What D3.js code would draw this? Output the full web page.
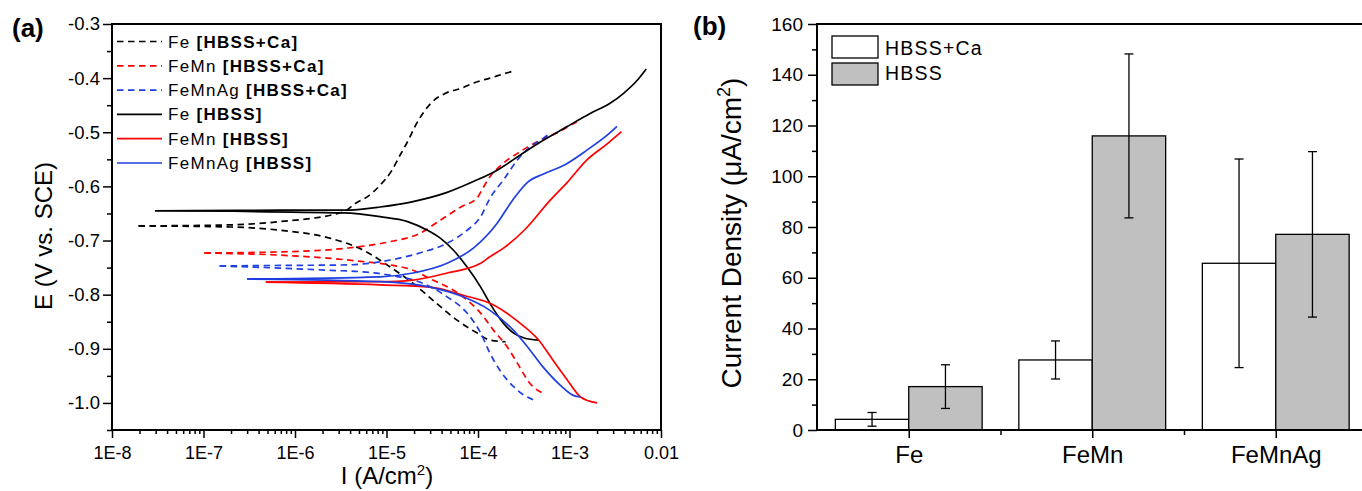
<!DOCTYPE html>
<html>
<head>
<meta charset="utf-8">
<script src="https://cdn.jsdelivr.net/npm/d3@7"></script>
<style>
body { margin: 0; background: #fff; }
svg { display: block; font-family: "Liberation Sans", Arial, sans-serif; }
.axis path { display: none; }
.axis line { stroke: #000; stroke-width: 1.5; }
.axis text { fill: #000; }
</style>
</head>
<body>
<div id="svg-container"></div>
<script>
// ---- panel (a): polarization curves, [I (A/cm2), E (V vs. SCE)] ----
// each curve starts at its corrosion point, one branch up (anodic), one down (cathodic)
let feCaAnodic = [[1.95e-8,-0.673],[2.0e-7,-0.671],[6.9e-7,-0.665],[3.4e-6,-0.647],[4.6e-6,-0.631],[6.2e-6,-0.619],
	[8.5e-6,-0.598],[1.15e-5,-0.570],[1.41e-5,-0.542],[1.74e-5,-0.514],[2.04e-5,-0.490],[2.57e-5,-0.462],
	[3.16e-5,-0.444],[4.4e-5,-0.428],[6.5e-5,-0.419],[9.3e-5,-0.408],[1.35e-4,-0.400],[2.1e-4,-0.390],[2.45e-4,-0.387]];
let feCaCathodic = [[1.95e-8,-0.673],[2.0e-7,-0.675],[6.9e-7,-0.681],[2.45e-6,-0.696],[5.6e-6,-0.718],[1.1e-5,-0.749],
	[1.95e-5,-0.779],[3.2e-5,-0.810],[5.9e-5,-0.847],[9.8e-5,-0.871],[1.35e-4,-0.884],[2.0e-4,-0.887]];

let feMnCaAnodic = [[1.02e-7,-0.723],[6.9e-7,-0.721],[3.7e-6,-0.714],[1.1e-5,-0.702],[2.3e-5,-0.687],[3.9e-5,-0.662],
	[6.5e-5,-0.638],[9.8e-5,-0.621],[1.15e-4,-0.601],[1.35e-4,-0.582],[1.7e-4,-0.564],[2.1e-4,-0.551],[2.7e-4,-0.539],
	[3.5e-4,-0.527],[4.4e-4,-0.518],[5.6e-4,-0.509],[7.2e-4,-0.502],[9.3e-4,-0.491],[1.2e-3,-0.481]];
let feMnCaCathodic = [[1.02e-7,-0.723],[6.9e-7,-0.727],[2.45e-6,-0.733],[5.6e-6,-0.739],[1.1e-5,-0.745],[1.95e-5,-0.755],
	[3.2e-5,-0.773],[5.2e-5,-0.790],[7.6e-5,-0.810],[1.07e-4,-0.834],[1.48e-4,-0.866],[2.1e-4,-0.897],[2.7e-4,-0.927],
	[3.7e-4,-0.964],[5.1e-4,-0.982]];

let feMnAgCaAnodic = [[1.5e-7,-0.747],[6.9e-7,-0.746],[3.7e-6,-0.745],[1.1e-5,-0.736],[2.3e-5,-0.723],[4.6e-5,-0.705],
	[7.6e-5,-0.681],[1.07e-4,-0.656],[1.35e-4,-0.622],[1.9e-4,-0.588],[2.7e-4,-0.551],[3.7e-4,-0.527],[5.2e-4,-0.511],[6.2e-4,-0.501]];
let feMnAgCaCathodic = [[1.5e-7,-0.747],[6.9e-7,-0.751],[2.45e-6,-0.755],[5.6e-6,-0.758],[1.1e-5,-0.764],[2.5e-5,-0.779],
	[4.6e-5,-0.804],[7.6e-5,-0.834],[1.07e-4,-0.871],[1.35e-4,-0.908],[1.74e-4,-0.940],[2.45e-4,-0.970],[3.2e-4,-0.986],[4.0e-4,-0.994]];

let feAnodic = [[2.95e-8,-0.645],[6.9e-7,-0.644],[3.4e-6,-0.644],[8.5e-6,-0.638],[1.95e-5,-0.628],[4.6e-5,-0.611],
	[8.9e-5,-0.591],[1.62e-4,-0.570],[2.9e-4,-0.542],[4.8e-4,-0.518],[9.3e-4,-0.490],[1.7e-3,-0.465],[2.8e-3,-0.446],
	[3.9e-3,-0.428],[5.5e-3,-0.404],[6.9e-3,-0.383]];
let feCathodic = [[2.95e-8,-0.645],[3.4e-6,-0.649],[8.5e-6,-0.656],[1.7e-5,-0.665],[2.8e-5,-0.681],[3.9e-5,-0.696],
	[5.4e-5,-0.718],[7.6e-5,-0.749],[1.07e-4,-0.786],[1.35e-4,-0.816],[1.9e-4,-0.853],[2.45e-4,-0.871],[3.2e-4,-0.880],[4.6e-4,-0.884]];

let feMnAnodic = [[4.8e-7,-0.777],[8.5e-6,-0.776],[1.95e-5,-0.773],[4.6e-5,-0.760],[1.07e-4,-0.742],[1.35e-4,-0.730],
	[1.9e-4,-0.714],[3.2e-4,-0.681],[6.2e-4,-0.625],[9.3e-4,-0.594],[1.55e-3,-0.551],[2.6e-3,-0.521],[3.7e-3,-0.499]];
let feMnCathodic = [[4.8e-7,-0.777],[8.5e-6,-0.782],[3.0e-5,-0.786],[6.9e-5,-0.801],[1.48e-4,-0.819],[2.9e-4,-0.853],
	[4.5e-4,-0.882],[6.6e-4,-0.921],[9.5e-4,-0.958],[1.32e-3,-0.989],[2.0e-3,-1.000]];

let feMnAgAnodic = [[3.0e-7,-0.771],[8.5e-6,-0.767],[1.95e-5,-0.760],[4.6e-5,-0.742],[8.9e-5,-0.714],[1.62e-4,-0.668],
	[2.4e-4,-0.625],[3.5e-4,-0.592],[5.2e-4,-0.577],[8.7e-4,-0.561],[1.55e-3,-0.533],[2.6e-3,-0.505],[3.3e-3,-0.489]];
let feMnAgCathodic = [[3.0e-7,-0.771],[8.5e-6,-0.776],[3.0e-5,-0.786],[6.9e-5,-0.804],[1.35e-4,-0.829],[2.45e-4,-0.866],
	[3.5e-4,-0.897],[5.1e-4,-0.933],[7.9e-4,-0.967],[1.1e-3,-0.986],[1.32e-3,-0.989]];

let xTicksA = [1e-8, 1e-7, 1e-6, 1e-5, 1e-4, 1e-3, 1e-2];
let xTickLabelsA = ['1E-8', '1E-7', '1E-6', '1E-5', '1E-4', '1E-3', '0.01'];
let yTicksA = [-1.0, -0.9, -0.8, -0.7, -0.6, -0.5, -0.4, -0.3];

// ---- panel (b): current density (uA/cm2) ----
let categories = ['Fe', 'FeMn', 'FeMnAg'];
let hbssCaMean = [4.2, 27.6, 65.7];
let hbssCaErr = [2.7, 7.5, 41.1];
let hbssMean = [17.1, 115.9, 77.1];
let hbssErr = [8.6, 32.3, 32.6];
let yTicksB = [0, 20, 40, 60, 80, 100, 120, 140, 160];

window.onload = function(){

let svg = d3.select('#svg-container').append('svg')
	.attr('width', 1362)
	.attr('height', 491);

// ================= panel (a) =================
let xA = d3.scaleLog().domain([1e-8, 1e-2]).range([112, 661]);
let yA = d3.scaleLinear().domain([-1.05, -0.3]).range([430, 24]);

// minor ticks 2..9 of every decade
let minorX = [];
for (let e = -8; e < -2; e++) for (let m = 2; m <= 9; m++) minorX.push(m * Math.pow(10, e));
let minorY = d3.range(-1.05, -0.3, 0.1);

svg.append('g').attr('class', 'axis')
	.attr('transform', 'translate(0,430)')
	.style('font-size', '18px')
	.call(d3.axisBottom(xA).tickValues(xTicksA).tickSize(8).tickPadding(8).tickSizeOuter(0)
		.tickFormat((d, i) => xTickLabelsA[i]));
svg.append('g').attr('class', 'axis')
	.attr('transform', 'translate(0,430)')
	.call(d3.axisBottom(xA).tickValues(minorX).tickSize(4).tickFormat(''));
svg.append('g').attr('class', 'axis')
	.attr('transform', 'translate(112,0)')
	.style('font-size', '18.5px')
	.call(d3.axisLeft(yA).tickValues(yTicksA).tickSize(9).tickPadding(3).tickSizeOuter(0)
		.tickFormat(d => d.toFixed(1)));
svg.append('g').attr('class', 'axis')
	.attr('transform', 'translate(112,0)')
	.call(d3.axisLeft(yA).tickValues(minorY).tickSize(5).tickFormat(''));

// frame
svg.append('rect')
	.attr('x', 112).attr('y', 24)
	.attr('width', 661 - 112).attr('height', 430 - 24)
	.attr('fill', 'none').attr('stroke', '#000').attr('stroke-width', 2);

let curves = [
	{ name: 'Fe',     sol: '[HBSS+Ca]', color: '#000',    dash: true,  up: feCaAnodic,     down: feCaCathodic },
	{ name: 'FeMn',   sol: '[HBSS+Ca]', color: '#ff0000', dash: true,  up: feMnCaAnodic,   down: feMnCaCathodic },
	{ name: 'FeMnAg', sol: '[HBSS+Ca]', color: '#1f3fe0', dash: true,  up: feMnAgCaAnodic, down: feMnAgCaCathodic },
	{ name: 'Fe',     sol: '[HBSS]',    color: '#000',    dash: false, up: feAnodic,       down: feCathodic },
	{ name: 'FeMn',   sol: '[HBSS]',    color: '#ff0000', dash: false, up: feMnAnodic,     down: feMnCathodic },
	{ name: 'FeMnAg', sol: '[HBSS]',    color: '#1f3fe0', dash: false, up: feMnAgAnodic,   down: feMnAgCathodic }
];

let line = d3.line()
	.x(d => xA(d[0]))
	.y(d => yA(d[1]))
	.curve(d3.curveMonotoneX);

let curveGroup = svg.append('g').attr('id', 'curves');
curves.forEach(function(c) {
	[c.down, c.up].forEach(function(branch) {
		curveGroup.append('path')
			.datum(branch)
			.attr('d', line)
			.attr('fill', 'none')
			.attr('stroke', c.color)
			.attr('stroke-width', 1.7)
			.attr('stroke-dasharray', c.dash ? '6.5,4.5' : null);
	});
});

// legend (a)
let legendA = svg.append('g').attr('id', 'legend-a');
curves.forEach(function(c, i) {
	let cy = 41.5 + i * 24.3;
	legendA.append('line')
		.attr('x1', 117).attr('x2', 162)
		.attr('y1', cy).attr('y2', cy)
		.attr('stroke', c.color).attr('stroke-width', 1.7)
		.attr('stroke-dasharray', c.dash ? '6.5,4.5' : null);
	let t = legendA.append('text')
		.attr('x', 168).attr('y', cy + 6)
		.style('font-size', '17px')
		.style('letter-spacing', '1.3px');
	t.append('tspan').text(c.name + ' ');
	t.append('tspan').attr('font-weight', 'bold').text(c.sol);
});

// titles (a)
svg.append('text')
	.attr('x', 12).attr('y', 37)
	.attr('font-weight', 'bold').style('font-size', '26px')
	.text('(a)');
svg.append('text')
	.attr('transform', 'translate(52,236) rotate(-90)')
	.attr('text-anchor', 'middle')
	.style('font-size', '24px')
	.text('E (V vs. SCE)');
let xTitle = svg.append('text')
	.attr('x', 387).attr('y', 484)
	.attr('text-anchor', 'middle')
	.style('font-size', '24px');
xTitle.append('tspan').text('I (A/cm');
xTitle.append('tspan').attr('dy', -9).style('font-size', '15px').text('2');
xTitle.append('tspan').attr('dy', 9).text(')');

// ================= panel (b) =================
let xB = d3.scaleLinear().domain([0.5, 3.5]).range([817, 1367.5]);
let yB = d3.scaleLinear().domain([0, 160]).range([430, 24]);
let bw = xB(1.4) - xB(1);

let barGroup = svg.append('g').attr('id', 'bars');
categories.forEach(function(cat, i) {
	let cx = xB(i + 1);
	// HBSS+Ca (white) on the left, HBSS (grey) on the right
	barGroup.append('rect')
		.attr('x', cx - bw).attr('y', yB(hbssCaMean[i]))
		.attr('width', bw).attr('height', yB(0) - yB(hbssCaMean[i]))
		.attr('fill', '#fff').attr('stroke', '#000').attr('stroke-width', 1.3);
	barGroup.append('rect')
		.attr('x', cx).attr('y', yB(hbssMean[i]))
		.attr('width', bw).attr('height', yB(0) - yB(hbssMean[i]))
		.attr('fill', '#c0c0c0').attr('stroke', '#000').attr('stroke-width', 1.3);
	// error bars
	[[cx - bw / 2, hbssCaMean[i], hbssCaErr[i]], [cx + bw / 2, hbssMean[i], hbssErr[i]]].forEach(function(e) {
		let top = yB(e[1] + e[2]);
		let bot = yB(e[1] - e[2]);
		barGroup.append('line')
			.attr('x1', e[0]).attr('x2', e[0]).attr('y1', top).attr('y2', bot)
			.attr('stroke', '#000').attr('stroke-width', 1.3);
		[top, bot].forEach(function(y) {
			barGroup.append('line')
				.attr('x1', e[0] - 4.5).attr('x2', e[0] + 4.5).attr('y1', y).attr('y2', y)
				.attr('stroke', '#000').attr('stroke-width', 1.3);
		});
	});
});

svg.append('g').attr('class', 'axis')
	.attr('transform', 'translate(0,430)')
	.style('font-size', '24px')
	.call(d3.axisBottom(xB).tickValues([1, 2, 3]).tickSize(8).tickPadding(8).tickSizeOuter(0)
		.tickFormat(d => categories[d - 1]));
svg.append('g').attr('class', 'axis')
	.attr('transform', 'translate(0,430)')
	.call(d3.axisBottom(xB).tickValues([1.5, 2.5]).tickSize(5).tickFormat(''));
svg.append('g').attr('class', 'axis')
	.attr('transform', 'translate(817,0)')
	.style('font-size', '19px')
	.call(d3.axisLeft(yB).tickValues(yTicksB).tickSize(9).tickPadding(5).tickSizeOuter(0));
svg.append('g').attr('class', 'axis')
	.attr('transform', 'translate(817,0)')
	.call(d3.axisLeft(yB).tickValues(d3.range(10, 160, 20)).tickSize(5).tickFormat(''));

// frame lines (right edge falls outside the picture)
svg.append('path')
	.attr('d', 'M1362,24H817V430H1362')
	.attr('fill', 'none').attr('stroke', '#000').attr('stroke-width', 2);

// legend (b)
let legendB = svg.append('g').attr('id', 'legend-b');
[['HBSS+Ca', '#fff', 36, 55], ['HBSS', '#c0c0c0', 63, 80]].forEach(function(l) {
	legendB.append('rect')
		.attr('x', 832).attr('y', l[2]).attr('width', 46).attr('height', 22)
		.attr('fill', l[1]).attr('stroke', '#000').attr('stroke-width', 1.3);
	legendB.append('text')
		.attr('x', 885).attr('y', l[3])
		.style('font-size', '19.5px').style('letter-spacing', '1.2px')
		.text(l[0]);
});

svg.append('text')
	.attr('x', 693).attr('y', 35)
	.attr('font-weight', 'bold').style('font-size', '26px')
	.text('(b)');
let yTitleB = svg.append('text')
	.attr('transform', 'translate(741,233) rotate(-90)')
	.attr('text-anchor', 'middle')
	.style('font-size', '28px');
yTitleB.append('tspan').text('Current Density (\u03bcA/cm');
yTitleB.append('tspan').attr('dy', -11).style('font-size', '18px').text('2');
yTitleB.append('tspan').attr('dy', 11).text(')');

};
</script>
</body>
</html>
